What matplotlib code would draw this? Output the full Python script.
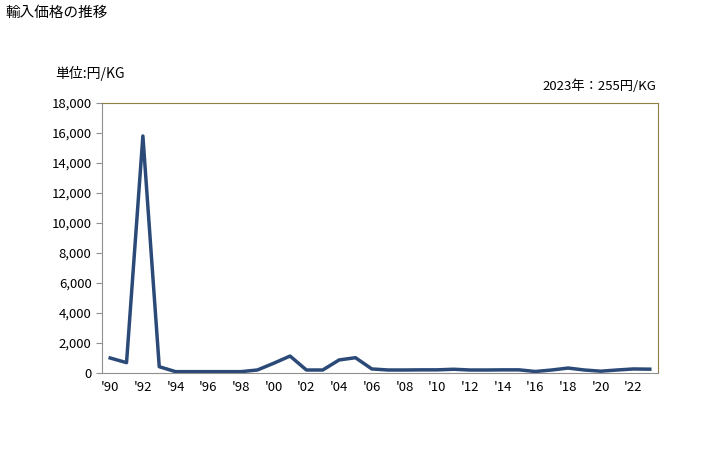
import matplotlib
matplotlib.use('Agg')
import matplotlib.pyplot as plt
from matplotlib.ticker import FuncFormatter

plt.rcParams['font.family'] = ['Noto Sans CJK JP', 'DejaVu Sans']

years = list(range(1990, 2024))
prices = [1000, 690, 15800, 420, 90, 90, 90, 90, 90, 200,
          650, 1130, 200, 200, 870, 1020, 270, 200, 200, 210,
          210, 250, 200, 200, 210, 210, 100, 200, 330, 200,
          120, 200, 270, 255]
tick_years = list(range(1990, 2023, 2))
tick_labels = ["'%02d" % (y % 100) for y in tick_years]

fig = plt.figure(figsize=(7.28, 4.5), dpi=100)
ax = fig.add_axes([102 / 728, 77 / 450, 556 / 728, 270 / 450])

ax.plot(years, prices, color='#2b4a78', linewidth=2.5)
ax.set_ylim(0, 18000)
ax.set_xlim(1989.5, 2023.5)
ax.set_yticks(range(0, 18001, 2000))
ax.yaxis.set_major_formatter(FuncFormatter(lambda v, p: f'{int(v):,}'))
ax.set_xticks(tick_years)
ax.set_xticklabels(tick_labels)

for s in ['top', 'right']:
    ax.spines[s].set_color('#8c7e45')
for s in ['left', 'bottom']:
    ax.spines[s].set_color('#909090')
ax.tick_params(axis='y', length=4, color='#909090', labelsize=9.5)
ax.tick_params(axis='x', length=0, labelsize=9.5, pad=6)

fig.text(5 / 728, 1 - 13 / 450, '輸入価格の推移', fontsize=10.5, va='center')
fig.text(55 / 728, 1 - 73 / 450, '単位:円/KG', fontsize=10, va='center')
fig.text(656 / 728, 1 - 86 / 450, '2023年：255円/KG', fontsize=9.5, va='center', ha='right')

fig.savefig('out.png', dpi=100)
